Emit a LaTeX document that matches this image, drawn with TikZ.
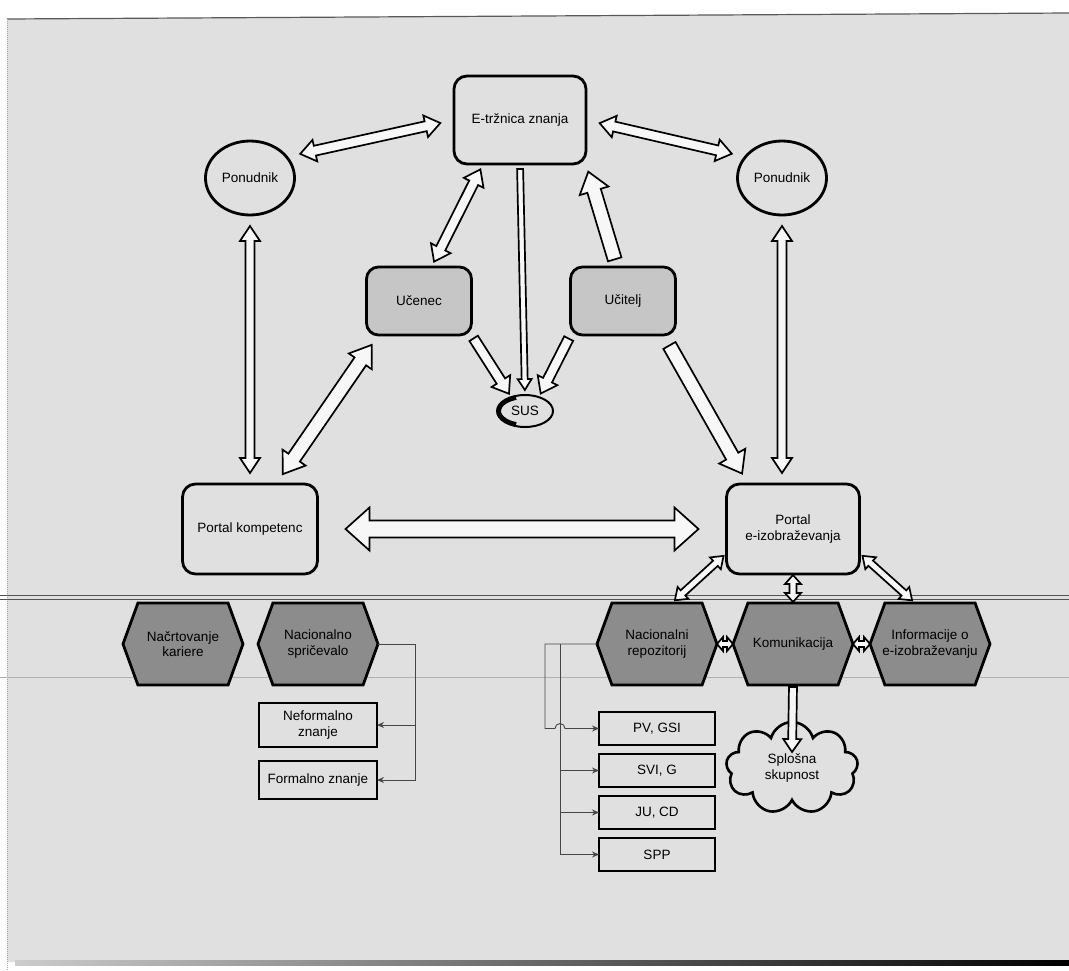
\documentclass[tikz,border=0pt]{standalone}
\usepackage{fontspec}
\setmainfont{Liberation Sans}
\usetikzlibrary{positioning, calc, shapes.geometric, shapes.symbols, arrows.meta}

% block arrow with two heads: from, to, gap, half shaft, half head, head length
\newcommand\fatboth[6]{%
  \path ($(#1)!#3!(#2)$) coordinate (fa) ($(#2)!#3!(#1)$) coordinate (fb);
  \filldraw[fatarrow] (fa)
    -- ($(fa)!#6!(fb)!#5!90:(fb)$) -- ($(fa)!#6!(fb)!#4!90:(fb)$)
    -- ($(fb)!#6!(fa)!#4!-90:(fa)$) -- ($(fb)!#6!(fa)!#5!-90:(fa)$)
    -- (fb)
    -- ($(fb)!#6!(fa)!#5!90:(fa)$) -- ($(fb)!#6!(fa)!#4!90:(fa)$)
    -- ($(fa)!#6!(fb)!#4!-90:(fb)$) -- ($(fa)!#6!(fb)!#5!-90:(fb)$)
    -- cycle;}
% block arrow with one head (at the second node)
\newcommand\fatone[6]{%
  \path ($(#1)!#3!(#2)$) coordinate (fa) ($(#2)!#3!(#1)$) coordinate (fb);
  \filldraw[fatarrow] ($(fa)!#4!90:(fb)$)
    -- ($(fb)!#6!(fa)!#4!-90:(fa)$) -- ($(fb)!#6!(fa)!#5!-90:(fa)$)
    -- (fb)
    -- ($(fb)!#6!(fa)!#5!90:(fa)$) -- ($(fb)!#6!(fa)!#4!90:(fa)$)
    -- ($(fa)!#4!-90:(fb)$) -- cycle;}

\begin{document}
\begin{tikzpicture}[x=1pt, y=-1pt]
  \tikzstyle{every node}=[font=\fontsize{13.5}{15.5}\selectfont, align=center, outer sep=0pt]
  \tikzstyle{box}=[rectangle, rounded corners=13pt, draw, line width=2.8pt, minimum width=132pt, minimum height=88pt]
  \tikzstyle{actor}=[ellipse, draw, line width=2.8pt, minimum width=84pt, minimum height=74pt]
  \tikzstyle{role}=[rectangle, rounded corners=12pt, draw, line width=2.8pt, fill=gray!45, minimum width=105pt, minimum height=68pt]
  \tikzstyle{hexa}=[signal, signal to=east and west, signal pointer angle=140, draw, line width=2.8pt, fill=gray!90, minimum width=120pt, minimum height=82pt, inner xsep=-8pt]
  \tikzstyle{item}=[rectangle, draw, line width=2.8pt, minimum width=116pt, minimum height=33pt]
  \tikzstyle{fatarrow}=[draw=black, line width=1.7pt, fill=gray!6, line join=miter]
  \tikzstyle{link}=[draw=gray!55!black, line width=0.9pt, -{Stealth[length=7pt,width=6pt]}]
  \useasboundingbox (0,0) rectangle (1069,970);
  % scanned page
  \fill[gray!24] (7,19) -- (1069,13) -- (1069,962) -- (7,962) -- cycle;
  \draw[line width=1.2pt, gray!70!black] (7,19) -- (1069,13);
  \draw[gray!70, densely dotted, line width=1pt] (7,19) -- (7,970);
  \shade[left color=gray!40, right color=black] (15,960) rectangle (1069,965);
  \draw[gray!65!black, line width=0.8pt] (0,595) -- (1069,595) (0,599) -- (1069,599);
  \draw[gray!60, line width=0.8pt] (0,677) -- (1069,677);

  \node[box] (etr) at (520,120) {E-tržnica znanja};
  \node[actor] (pl) at (250,178) {Ponudnik};
  \node[actor] (pr) at (782,178) {Ponudnik};
  \node[role] (uce) at (419,301) {Učenec};
  \node[role] (uci) at (623,301) {Učitelj};
  \node[ellipse, draw, line width=2pt, minimum width=56pt, minimum height=32pt, inner sep=1pt] (sus) at (525,411) {SUS};
  \draw[line width=4pt] ($(sus.center)+(110:26pt and 14pt)$) arc[start angle=110, end angle=250, x radius=26pt, y radius=14pt];
  \node[box, minimum width=135pt, minimum height=90pt] (pk) at (250,529) {Portal kompetenc};
  \node[box, minimum width=133pt, minimum height=90pt] (pe) at (793,529) {Portal\\e-izobraževanja};

  \node[hexa] (nkr) at (183,644) {Načrtovanje\\kariere};
  \node[hexa, right=15pt of nkr] (nsp) {Nacionalno\\spričevalo};
  \node[hexa] (nrp) at (657,644) {Nacionalni\\repozitorij};
  \node[hexa, right=16pt of nrp] (kom) {Komunikacija};
  \node[hexa, right=17pt of kom] (inf) {Informacije o\\e-izobraževanju};

  \node[item, minimum width=118pt, minimum height=44pt, below=18pt of nsp] (nzn) {Neformalno\\znanje};
  \node[item, minimum width=118pt, minimum height=38pt, below=14pt of nzn] (fzn) {Formalno znanje};
  \node[item, below=27pt of nrp] (pvg) {PV, GSI};
  \node[item, below=9pt of pvg] (svg) {SVI, G};
  \node[item, below=9pt of svg] (juc) {JU, CD};
  \node[item, below=9pt of juc] (spp) {SPP};
  \node[cloud, cloud puffs=9, cloud ignores aspect, draw, line width=2.6pt, minimum width=132pt, minimum height=92pt] (skup) at (792,768) {Splošna\\skupnost};

  % block arrows
  \fatboth{pl.30}{etr.west}{14pt}{5pt}{11pt}{15pt}
  \fatboth{etr.east}{pr.150}{14pt}{5pt}{11pt}{15pt}
  \fatboth{uce.70}{etr.230}{6pt}{5pt}{11pt}{15pt}
  \fatone{uci.100}{etr.south east}{8pt}{7pt}{15pt}{20pt}
  \fatone{etr.south}{sus.north}{5pt}{3pt}{7pt}{11pt}
  \fatboth{pl.south}{pk.north}{11pt}{4.5pt}{10pt}{15pt}
  \fatboth{pr.south}{pr.south |- pe.north}{11pt}{4.5pt}{10pt}{15pt}
  \fatboth{pk.60}{uce.220}{12pt}{7pt}{14pt}{20pt}
  \fatone{uce.south east}{sus.135}{4pt}{5pt}{11pt}{15pt}
  \fatone{uci.south west}{sus.45}{4pt}{5pt}{11pt}{15pt}
  \fatone{uci.320}{pe.135}{12pt}{7pt}{15pt}{20pt}
  \fatboth{pk.east}{pe.west}{28pt}{8.5pt}{21.5pt}{24pt}
  \fatboth{pe.200}{nrp.70}{4pt}{3.5pt}{8pt}{11pt}
  \fatboth{pe.south}{kom.north}{1pt}{3.5pt}{8pt}{9pt}
  \fatboth{pe.340}{inf.110}{4pt}{3.5pt}{8pt}{11pt}
  \fatboth{nrp.east}{kom.west}{0pt}{3pt}{7pt}{6pt}
  \fatboth{kom.east}{inf.west}{0pt}{3pt}{7pt}{6pt}
  \coordinate (skupin) at ($(skup.center)+(0,-14)$);
  \fatone{kom.south}{skupin}{2pt}{4pt}{9pt}{13pt}

  % thin links
  \coordinate (busC) at ($(nsp.east)+(37,0)$);
  \draw[link] (nsp.east) -- (busC) |- (nzn.east);
  \draw[link] (busC) |- (fzn.east);
  \coordinate (busA) at ($(nrp.west)+(-52,0)$);
  \coordinate (busB) at ($(nrp.west)+(-37,0)$);
  \draw[link] (nrp.west) -- (busA) |- ($(busB |- pvg.west)+(-5,0)$) arc[start angle=180, end angle=0, radius=5pt] -- (pvg.west);
  \draw[link] (busB) |- (svg.west);
  \draw[link] (busB) |- (juc.west);
  \draw[link] (busB) |- (spp.west);
\end{tikzpicture}
\end{document}
